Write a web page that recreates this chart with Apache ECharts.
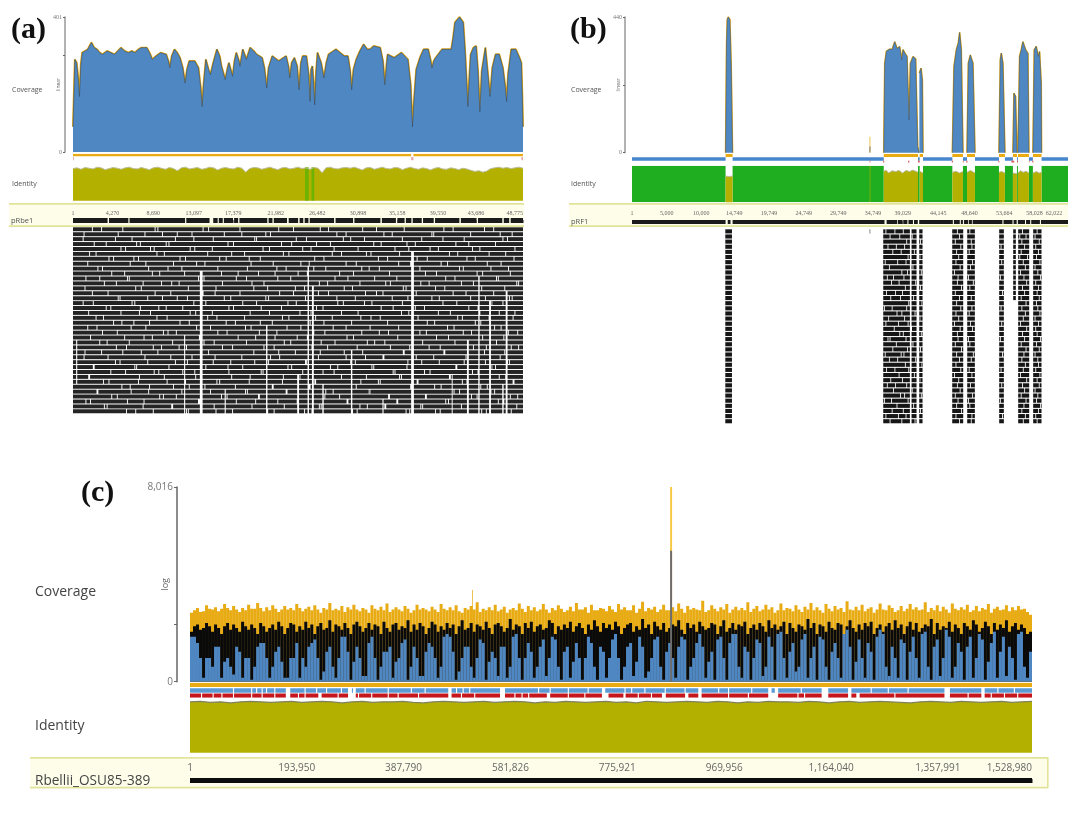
<!DOCTYPE html>
<html><head><meta charset="utf-8">
<style>html,body{margin:0;padding:0;background:#fff}#c{width:1068px;height:818px;filter:blur(0.5px)}</style>
<script src="https://cdn.jsdelivr.net/npm/echarts@6/dist/echarts.min.js"></script>
</head><body><div id="c"></div>
<script>
// ---------- Panel (a) ----------
const lengthA = 48775;
const ticksA = [1,4270,8690,13097,17379,21982,26482,30898,35158,39550,43686,48775];
const posA = [0,200,400,600,700,850,1000,1300,1600,2000,2300,2600,2900,3200,3700,4100,4500,5200,5600,6000,6400,6700,7100,7400,8000,8300,8600,9000,9500,10100,10350,10500,10700,11000,11300,11600,11900,12150,12350,12600,13200,13600,13850,14000,14150,14400,14700,14900,15200,15600,15900,16100,16500,16750,16900,17150,17300,17500,17700,18000,18100,18400,18800,19200,19600,19900,20500,20750,21000,21200,21600,22300,22800,23100,23350,23500,23700,24000,24300,24500,24700,24900,25300,25550,25700,25800,25950,26100,26200,26350,26500,26900,27200,27450,27700,28500,29400,29800,30050,30200,30400,30700,31100,31500,31900,32200,32600,33300,33600,33800,34000,34100,34800,35600,36300,36600,36800,36950,37200,37600,38000,38500,38750,38900,39100,39300,40000,41000,41200,41400,41900,42300,42500,42650,42800,42950,43100,43400,43700,43900,44100,44300,44700,44950,45200,45450,45800,46200,46600,46850,47000,47150,47500,48000,48400,48600,48700,48775];
const covA = [75,275,265,210,165,260,295,300,305,325,310,305,295,290,300,295,290,310,300,295,300,295,305,310,310,295,275,285,295,290,270,250,285,305,295,280,250,205,245,270,270,250,190,135,200,275,245,230,265,305,285,255,215,250,265,240,225,270,295,270,255,305,275,310,300,290,280,250,190,250,285,270,280,285,255,220,265,280,255,185,265,285,285,230,150,245,255,200,140,240,295,265,220,265,290,305,285,285,240,185,245,275,300,320,305,305,315,310,270,200,265,290,280,295,275,200,75,150,245,280,305,305,275,250,270,280,305,305,340,385,401,385,300,220,135,220,290,310,315,240,120,240,310,240,165,250,290,290,250,195,150,230,305,305,280,265,170,75];
const stripGapsA = [[36650,36900]];
const stripMarksA = [[0,100],[36650,36900],[48600,48775]];
const identityA = [90,92,88,93,91,89,94,92,87,90,93,91,88,92,94,90,89,93,90,87,92,94,91,88,93,90,84,92,94,89,91,93,88,90,94,92,86,91,93,90,89,94,91,80,90,93,92,88,91,94,90,87,92,93,89,91,94,90,92,88,93,91,78,92,94,90,89,92,93,91,94,90,86,92,93,88,91,94,90,89,93,92,87,91,94,90,88,92,90,86,91,93,89,88,92,90,87,91,89,85,82,84,80,83,90,92,94,91,93,90,92,94,91];
const greenA = [[25150,25550],[25850,26150]];
const rulerGapsA = [[3750,3900],[6000,6130],[12150,12280],[14800,15200],[15680,15800],[16230,16350],[17340,17460],[17900,18040],[21060,21200],[21620,21760],[23200,23380],[24400,24560],[24960,25110],[25520,25660],[28300,28460],[30360,30500],[33320,33480],[35000,35160],[35940,36080],[36680,36820],[37800,37940],[39100,39240],[41880,42040],[43740,43900],[46530,46690],[47280,47440]];
const readColsA = [[13.9,.3,9,38],[12.1,.12,22,38],[25.5,.15,8,38],[26.0,.2,12,38],[36.8,.3,5,38],[42.8,.2,23,38],[44.0,.15,10,38],[45.2,.2,15,38],[47.0,.2,13,38],[21.0,.15,20,38],[24.4,.2,30,38],[30.2,.15,25,38],[33.6,.12,35,38],[27.1,.15,32,38],[16.5,.12,33,38],[.4,.12,23,31],[46.6,.15,32,38],[41.1,.1,30,38]];
const readBreaksA = [
[3.1,5.4,9.2,14.7,22.3,26.8,31.4,35.9,40.2,44.6],[1.2,7.8,12.9,18.3,21.4,29.6,33.7,39.1,46.3],[4.6,11.1,15.2,19.7,25.3,30.1,37.8,42.4,47.1],
[2.3,6.9,10.4,16.8,23.7,27.9,32.6,36.2,41.5,45.8],[5.7,8.8,13.2,20.6,24.9,28.3,34.9,38.7,43.3],[1.8,9.9,17.2,22.8,29.1,31.8,35.4,40.8,46.9],
[3.9,7.1,12.2,15.9,19.1,26.2,33.1,37.3,42.7,47.8],[6.2,10.9,14.3,21.7,25.6,30.7,36.6,39.9,44.9],[2.7,8.2,11.8,18.9,23.1,27.4,32.1,41.9,45.3],
[4.2,9.4,16.1,20.1,24.4,28.9,34.3,38.2,43.8,47.4],[1.4,5.9,13.6,17.7,22.2,29.8,35.1,40.4,46.1],[3.4,7.6,10.7,19.4,26.7,31.1,33.9,37.7,42.1,48.1],
[6.8,12.5,15.5,21.1,25.1,30.3,36.1,39.3,44.3],[2.1,8.9,14.1,18.1,23.9,27.7,32.9,41.2,45.6],[4.9,9.7,11.3,16.4,20.9,28.6,34.6,38.9,43.1,47.6],
[1.1,6.4,13.1,19.9,24.2,29.3,31.6,35.7,40.1,46.6],[3.6,7.3,10.1,17.4,22.6,26.4,33.4,37.1,42.9],[5.2,8.4,12.7,15.1,21.3,25.8,30.9,36.4,39.6,44.1,47.9],
[2.5,9.1,14.6,18.6,23.4,28.1,32.3,41.7,45.1],[4.4,6.6,11.6,16.6,20.3,27.2,34.1,38.4,43.6],[1.6,7.9,13.4,19.3,24.7,29.6,35.3,40.6,46.4],
[3.2,10.3,15.7,22.1,26.1,31.3,33.2,37.6,42.3,47.2],[5.6,8.6,12.1,17.9,21.9,25.4,30.4,36.9,39.4,44.4],[2.9,6.1,14.2,18.8,23.6,28.4,32.7,41.4,45.9],
[4.7,9.6,11.5,16.2,20.7,27.6,34.4,38.6,43.4,48.3],[1.3,7.4,13.8,19.6,24.1,29.4,35.8,40.3,46.8],[3.8,10.6,15.4,22.4,26.6,31.7,33.6,37.2,42.6],
[5.1,8.1,12.4,17.1,21.2,25.2,30.6,36.3,39.7,44.7,47.3],[2.2,6.7,14.4,18.4,23.3,28.7,32.4,41.6,45.4],[4.1,9.3,11.9,16.9,20.4,27.1,34.7,38.1,43.9],
[1.7,7.2,13.3,19.2,24.6,29.1,35.6,40.9,46.2],[3.3,10.2,15.6,22.7,26.3,31.2,33.3,37.4,42.2,47.7],[5.3,8.3,12.6,17.6,21.6,25.7,30.2,36.7,39.2,44.2],
[2.6,6.3,14.9,18.7,23.2,28.2,32.2,41.3,45.7],[4.8,9.8,11.2,16.7,20.2,27.3,34.2,38.3,43.2,48.2],[1.9,7.7,13.7,19.8,24.3,29.7,35.2,40.7,46.7],
[3.7,10.8,15.3,22.9,26.9,31.9,33.8,37.9,42.8],[5.8,8.7,12.3,17.3,21.8,25.9,30.8,36.5,39.8,44.8,47.5]];

// ---------- Panel (b) ----------
const viewEndB = 62850;
const ticksB = [1,5000,10000,14749,19749,24749,29749,34749,39029,44145,48640,53664,58028,62022];
const posB = [13488,13632,13728,13872,14112,14304,14496,14497,36288,36432,36672,37152,37488,37872,38208,38592,38880,39072,39360,39648,39936,40128,40512,40896,41184,41376,41377,41424,41664,41856,41952,41953,46176,46416,46752,47040,47232,47472,47712,47713,48288,48480,48768,49152,49440,49441,52896,53088,53232,53472,53760,53761,54912,55056,55296,55488,55489,55632,55872,56112,56352,56736,57072,57216,57217,57792,57984,58272,58560,58752,58992,59040];
const covB = [0,356,431,440,431,280,0,null,0,290,329,336,334,360,338,344,301,334,322,312,106,290,312,304,20,0,null,258,274,236,0,null,0,280,334,356,390,334,0,null,0,290,317,290,0,null,0,302,323,290,0,null,0,193,182,0,null,0,312,334,360,334,322,0,null,0,334,345,312,328,225,0];
const islandsB = [[13490,14500],[36290,41230],[41470,41950],[46180,47710],[48290,49440],[52900,53760],[54910,55490],[55630,57220],[57790,59040]];
const thinB = [[34270,34330]];
const spikeB = [[34240,34360,52]];
const spikeDarkB = [[34240,34360,20]];
const edgeMarksB = [[36200,36350],[39800,39980],[41230,41470],[46100,46260],[47700,47800],[48200,48360],[52820,52960],[54700,55100],[55500,55650],[57220,57300],[57700,57860],[34250,34350]];
const posIdB = [13490,14000,14500,14501,36290,36600,37000,37500,38000,38500,39000,39500,40000,40500,41230,41231,41470,41950,41951,46180,46700,47200,47710,47711,48290,48800,49440,49441,52900,53300,53760,53761,54910,55490,55491,55630,56000,56400,56800,57220,57221,57790,58300,58700,59040];
const idB = [72,70,72,null,84,88,80,86,84,87,80,87,84,88,82,null,85,80,null,82,85,80,84,null,82,87,80,null,82,84,80,null,80,78,null,80,86,82,85,80,null,80,84,80,82];
const rulerGapsB = [[13490,13800],[14200,14500],[36400,36700],[38200,38300],[39000,39100],[39700,39850],[40500,40650],[41200,41400],[46250,46400],[47250,47400],[47700,47850],[48450,48550],[49000,49100],[53400,53550],[54850,55000],[55450,55620],[56650,56800],[57400,57550],[58800,58950]];
const readIslandsB = [[13449,14410,38],[36215,40058,38],[40298,41019,38],[41403,41883,38],[46159,47744,38],[48320,49424,38],[52930,53603,38],[54948,55332,14],[55668,57254,38],[57829,59030,38]];
const readThinB = [[34250,34350,0]];
const readBreaksB = [
[36.6,37.9,39.1,46.9,48.7,56.3,58.4],[37.2,38.6,40.4,47.2,55.9,56.8,58.1],[39.6,41.6,46.6,48.9,56.2,58.7],
[36.9,38.1,39.3,47.4,49,53.2,56.6,58.2],[37.6,38.8,40.7,46.8,48.6,56.1,58.6],[39.8,41.5,47.1,55.9,57,58.3],
[36.5,38.3,39.5,46.7,49.1,53.3,56.4,58.8],[37.1,40.5,47.3,48.8,56.7,58.1],[38.9,39.7,41.7,46.5,56,58.5],
[36.8,37.7,39.2,47,48.5,53.1,56.5,58.9],[37.4,38.5,40.9,46.9,49.2,56.9,58.2],[39.4,41.6,47.5,48.7,56.3,58.6],
[36.7,38,39,46.6,53.4,56.6,58.4],[37.3,38.7,40.6,47.2,48.9,56.1,58.7],[39.9,41.8,46.8,56.8,58.3],
[36.4,37.5,39.6,47.4,49,53.2,56.2,58.5],[38.2,38.9,40.8,46.7,48.6,56.7,58.8],[37,39.3,41.5,47.1,56.4,58.1],
[36.6,38.4,39.8,46.5,48.8,53.3,56,58.6],[37.8,40.3,47.3,49.1,56.9,58.2],[38.6,39.1,41.7,46.9,56.3,58.4],
[36.9,37.2,39.5,47,48.5,53.1,56.6,58.9],[38.1,40.5,46.6,48.7,56.1,58.3],[37.6,39.7,41.6,47.5,56.8,58.7],
[36.5,38.8,39.2,46.8,49.2,53.4,56.5,58.1],[37.1,38.3,40.9,47.2,48.9,56.2,58.5],[39.4,41.8,46.7,56.7,58.6],
[36.7,37.9,39.9,47.4,48.6,53.2,56.4,58.2],[38.5,40.7,46.5,49,56,58.8],[37.3,39,41.5,47.1,56.9,58.4],
[36.8,38,39.6,46.9,48.8,53.3,56.3,58.7],[37.7,40.4,47.3,56.6,58.1],[38.7,39.3,41.7,46.6,49.1,56.1,58.5],
[36.4,37.4,39.8,47,48.5,53.1,56.8,58.3],[38.2,40.6,46.8,48.7,56.5,58.9],[37.5,39.1,41.6,47.5,56.2,58.6],
[36.6,38.4,39.5,46.7,49,53.4,56.7,58.2],[37.2,38.9,40.8,47.2,48.9,56.4,58.4]];

// ---------- Panel (c) ----------
const lengthC = 1528980;
const ticksC = [1,193950,387790,581826,775921,969956,1164040,1357991,1528980];
const coverageMaxC = [
24,27,30,25,26,34,29,28,31,26,29,36,30,27,33,28,25,30,27,35,29,29,38,30,26,31,27,34,29,25,28,33,28,30,27,36,30,26,29,32,
27,34,28,24,30,28,38,27,29,27,33,25,31,28,35,28,26,30,28,24,34,29,27,32,27,37,25,28,31,28,26,33,29,24,27,35,28,30,28,26,
32,28,25,36,29,27,31,27,34,26,24,30,28,33,28,39,25,29,27,31,27,35,26,28,32,24,28,30,27,37,29,25,33,27,31,26,28,36,28,24,
30,27,34,29,25,27,32,26,38,28,28,31,24,35,27,27,30,29,26,33,28,25,36,28,31,27,27,34,24,29,40,26,30,28,32,25,28,35,27,27,
31,26,37,29,24,33,28,30,28,27,42,25,27,34,29,26,31,28,36,24,28,32,27,30,27,39,25,29,33,26,28,35,28,31,24,27,37,27,30,29,
26,34,28,25,32,28,38,27,31,27,24,36,29,26,33,28,30,25,41,28,27,32,27,35,26,29,31,24,28,37,28,27,34,30,25,27,33,26,29,36,
28,31,27,28,39,25,30,27,34,26,32,28,24,37,29,27,31,28,35,25,27,33,26,30,28,36,24,29,32,27,28,34,26,31,27,33,28,29,25,22];
const coverageMeanC = [
10,13,14,11,12,15,13,10,14,12,9,13,15,11,14,12,10,16,13,11,14,12,9,15,13,10,12,14,11,16,13,9,12,15,14,10,13,11,16,12,
14,9,13,15,11,12,17,10,14,13,11,15,12,9,14,16,13,10,12,15,11,14,13,9,16,12,10,14,15,11,13,12,17,10,14,11,15,13,9,12,
16,14,10,13,11,15,12,14,9,13,17,11,12,15,10,14,13,11,16,12,9,14,15,13,10,12,18,11,14,13,9,15,12,16,10,13,14,11,12,17,
15,9,13,11,14,12,16,10,13,15,12,9,14,11,17,13,10,15,12,14,11,16,13,9,12,14,15,10,13,11,18,12,14,9,16,13,11,15,10,12,
14,13,17,11,9,15,12,14,10,16,13,11,12,15,14,9,13,17,10,12,15,11,14,13,16,9,12,14,11,15,13,10,17,12,14,11,13,16,9,15,
12,10,14,13,11,18,12,15,9,14,13,10,16,12,11,15,14,9,13,17,12,10,14,11,15,13,16,9,12,14,10,13,15,11,17,12,14,9,13,16,
11,15,10,12,14,13,18,9,15,11,13,12,16,10,14,12,9,15,13,11,17,14,10,12,16,13,9,15,11,14,12,17,10,13,15,11,14,12,9,10];
const coverageMinC = [
8,8,6,3,1.2,3,3,2,5,5,1.2,2.5,3,2,1.4,5,4,1.2,3,3,1.1,2,5,6,6,3,1.2,2,4,5,2.5,1.2,1.2,3,3,6,1.2,3,2,5,
6,7,3,1.1,1.6,4,5,2,1.2,3,8,8,4,1.1,2.5,5,3,1.3,1.3,6,8,3,1.1,2,4,4,5,1.2,2.5,3,6,7,1.1,2,5,3,1.3,1.3,4,6,
5,3,1.2,2,8,9,8,4,1.1,1.6,3,5,5,2,1.2,3,7,6,1.1,2.5,4,3,1.3,5,5,1.2,2,8,9,3,1.1,3,6,4,1.2,2,5,7,1.3,3,
8,7,2,1.1,4,5,1.2,2.5,6,3,1.1,3,8,6,2,1.1,5,4,1.2,3,7,9,3,1.1,2,5,6,1.3,2.5,8,5,1.2,1.6,3,7,8,2,1.1,4,6,
3,1.2,5,8,7,1.1,2,3,6,9,5,1.2,2.5,4,1.1,7,8,3,1.1,6,9,9,2,1.2,5,4,1.1,3,7,6,1.3,2,8,5,1.1,9,10,3,1.2,4,
6,1.6,2,7,9,1.2,3,5,1.1,8,7,2,1.1,4,6,3,1.2,9,11,5,1.1,2.5,7,3,1.2,6,4,1.1,8,11,9,2,1.3,5,3,1.2,7,6,1.1,4,
8,3,1.2,9,10,2,1.1,5,7,1.3,3,11,8,1.2,2,6,4,1.1,5,8,1.2,3,9,7,1.1,2.5,6,10,1.2,4,8,1.3,5,3,1.1,9,10,2,1.2,4];
const spikeMaxC = [[871800,875400,8016]];
const spikeMeanC = [[871800,875400,420]];
const minorSpikeC = [[512400,513700,69]];
const stripGapsBlueC = [[78,80],[111,113],[120,122],[130,132],[138,140],[153,155],[174,182],[208,210],[229,231],[247,249],[274,276],[287,294],[296,301],[317,319],[359,361],[401,403],[426,428],[469,475],[483,485],[495,497],[507,509],[563,572],[632,634],[653,655],[686,688],[722,724],[748,754],[789,791],[801,803],[825,827],[862,864],[898,900],[923,929],[959,961],[977,979],[1019,1021],[1050,1056],[1062,1068],[1109,1111],[1147,1159],[1195,1201],[1236,1238],[1267,1269],[1303,1305],[1370,1380],[1437,1443],[1466,1468],[1496,1498]];
const stripGapsRedC = [[20,22],[41,43],[57,59],[78,80],[111,113],[130,132],[153,155],[174,182],[196,198],[208,210],[233,239],[268,270],[287,301],[305,307],[329,331],[359,361],[377,379],[414,416],[469,475],[492,494],[516,518],[563,572],[589,591],[602,604],[614,616],[648,654],[686,688],[716,718],[748,760],[787,791],[813,815],[837,839],[857,864],[899,905],[923,929],[977,979],[1013,1015],[1050,1068],[1103,1105],[1115,1117],[1147,1159],[1195,1201],[1210,1216],[1279,1281],[1370,1380],[1412,1414],[1437,1443],[1454,1456],[1478,1480],[1502,1504]];
const identityC = [93,94,92,93,91,93,94,93,92,93,94,92,93,94,93,91,93,94,92,93,93,94,92,91,93,94,93,92,93,94,92,93,94,93,91,93,92,94,93,92,93,94,92,93,91,94,93,92,93,94,93,92,94,93,91,93,92,94,93,93,92,94,93,91,93,94,92,93,94,93,92,91,93,94,93,92,94,93,92,93,94,92,93,94];

// ---------- Helpers that build option pieces from those arrays ----------
const fmt = v => Math.round(v).toLocaleString('en-US');
const grids = [], xAxes = [], yAxes = [], series = [];
const BLUE='#4f87c3', ORANGE='#e8ab14', OLIVE='#b3b000', GREEN='#1fae1f', RED='#c4161c', DARK='#1b1b1b';

function addGrid(left,right,top,bottom,xMax,yOpt,xOpt){
  grids.push({left,top,width:right-left,height:bottom-top,show:false});
  const i = grids.length-1;
  xAxes.push(Object.assign({type:'value',gridIndex:i,min:1,max:xMax,show:false,splitLine:{show:false}},xOpt||{}));
  yAxes.push(Object.assign({type:'value',gridIndex:i,min:0,max:1,show:false,splitLine:{show:false}},yOpt||{}));
  return i;
}
function complement(gaps,lo,hi){
  const out=[]; let cur=lo;
  gaps.slice().sort((a,b)=>a[0]-b[0]).forEach(g=>{
    if(g[0]>cur && cur<hi) out.push([cur,Math.min(g[0],hi)]);
    cur=Math.max(cur,g[1]);
  });
  if(cur<hi) out.push([cur,hi]);
  return out;
}
function rects(g,data,color,base,top){
  series.push({type:'custom',coordinateSystem:'cartesian2d',xAxisIndex:g,yAxisIndex:g,silent:true,animation:false,clip:true,
    encode:{x:[0,1],y:2},
    data:data.map(d=>[d[0],d[1],d.length>2?d[2]:top]),
    renderItem(p,api){
      const a=api.coord([api.value(0),api.value(2)]), b=api.coord([api.value(1),base]);
      return {type:'rect',shape:{x:a[0],y:a[1],width:Math.max(b[0]-a[0],.6),height:b[1]-a[1]},style:{fill:color}};
    }});
}
function binned(arr,len){ const w=len/arr.length; return arr.map((v,i)=>[i*w,(i+1)*w,v]); }
function rows(g,data,color){
  series.push({type:'custom',coordinateSystem:'cartesian2d',xAxisIndex:g,yAxisIndex:g,silent:true,animation:false,clip:true,
    encode:{x:[0,1],y:2},data,
    renderItem(p,api){
      const r=api.value(2), a=api.coord([api.value(0),r+.06]), b=api.coord([api.value(1),r+.86]);
      return {type:'rect',shape:{x:a[0],y:a[1],width:Math.max(b[0]-a[0],.6),height:b[1]-a[1]},style:{fill:color}};
    }});
}
function area(g,pos,vals,lineColor,lineWidth,fill,z){
  series.push({type:'line',xAxisIndex:g,yAxisIndex:g,symbol:'none',silent:true,animation:false,clip:false,connectNulls:false,z,
    data:pos.map((x,i)=>[x,vals[i]]),lineStyle:{color:lineColor,width:lineWidth},
    areaStyle:fill?{color:fill,opacity:1}:undefined});
}
function cov(max,mid,name,offset,scale,size){
  const big=size>8;
  return {show:true,min:scale?1:0,max,type:scale||'value',logBase:scale?2:undefined,offset,
    axisLine:{show:true,lineStyle:{color:big?'#666':'#999',width:1.5}},
    axisTick:{show:true,customValues:[scale?1:0,mid,max],length:big?3:2,lineStyle:{color:'#666'}},
    axisLabel:{show:true,customValues:[scale?1:0,max],formatter:v=>(v<=1?'0':fmt(v)),fontSize:size,color:'#777',margin:big?4:3,
      fontFamily:big?'Open Sans':'Liberation Serif'},
    splitLine:{show:false},minorTick:{show:false},
    name,nameLocation:'middle',nameRotate:90,nameGap:big?7:4,nameMoveOverlap:false,
    nameTextStyle:{fontSize:big?9:5,color:'#666',fontFamily:'Open Sans'}};
}
function ruler(ticks,size,margin,tick,family){
  return {show:true,position:'top',axisLine:{show:false},
    axisTick:{show:true,customValues:ticks,length:tick,lineStyle:{color:'#888'}},
    axisLabel:{show:true,customValues:ticks,formatter:fmt,fontSize:size,color:'#666',margin,fontFamily:family,hideOverlap:false,showMinLabel:true,showMaxLabel:true,alignMaxLabel:'right'}};
}
function readSegs(breaks,cols,lo,hi){
  const out=[];
  breaks.forEach((br,r)=>{
    // each row shows its own read breaks plus those listed for a row further down
    const gaps=br.concat(breaks[(r+13)%breaks.length]).map(k=>[k*1000-50,k*1000+50]);
    cols.forEach(c=>{ if(r>=c[2]&&r<=c[3]) gaps.push([(c[0]-c[1]/2)*1000,(c[0]+c[1]/2)*1000]); });
    complement(gaps,lo,hi).forEach(s=>out.push([s[0],s[1],r]));
  });
  return out;
}

// Panel (a)
{
  const L=73,R=523;
  const g0=addGrid(L,R,17,152,lengthA,cov(401,288,'linear',8,null,6));
  area(g0,posA,covA,ORANGE,2,null,2);
  area(g0,posA,covA,'#34495f',.6,BLUE,3);
  const g1=addGrid(L,R,153.7,160.5,lengthA,{max:7});
  rects(g1,complement(stripGapsA,1,lengthA),ORANGE,4.5,7);
  rects(g1,stripMarksA,'#e6a9b0',0,3.6);
  const g2=addGrid(L,R,165,200.7,lengthA,{max:100});
  area(g2,identityA.map((_,i)=>i*lengthA/(identityA.length-1)),identityA,'#bcbc9c',1,OLIVE,2);
  rects(g2,greenA,'#6eb300',0,94);
  const g3=addGrid(L,R,218,223,lengthA,{},ruler(ticksA,6,2,3,'Liberation Serif'));
  rects(g3,complement(rulerGapsA,1,lengthA),DARK,0,1);
  const g4=addGrid(L,R,227,414,lengthA,{max:38,inverse:true});
  rows(g4,readSegs(readBreaksA,readColsA,1,lengthA),'#242424');
}
// Panel (b)
{
  const L=632,R=1068;
  const g0=addGrid(L,R,17,152.7,viewEndB,cov(440,220,'linear',7,null,6));
  area(g0,posB,covB,ORANGE,1.6,null,2);
  area(g0,posB,covB,'#3a5068',.5,BLUE,3);
  rects(g0,spikeB,'#e8b82f',0);
  rects(g0,spikeDarkB,'#666',0);
  const g1=addGrid(L,R,153.7,164,viewEndB,{max:10.3});
  rects(g1,islandsB,ORANGE,7,10.3);
  rects(g1,complement(islandsB,1,viewEndB),'#4686cc',3.2,6.8);
  rects(g1,edgeMarksB,'#d9534f',1.5,3.2);
  const g2=addGrid(L,R,165.7,202.3,viewEndB,{max:100});
  rects(g2,complement(islandsB,1,viewEndB),GREEN,0,100);
  rects(g2,thinB,OLIVE,0,100);
  area(g2,posIdB,idB,'#bcbc9c',1,OLIVE,3);
  const g3=addGrid(L,R,220,224,viewEndB,{},ruler(ticksB,6,4,3,'Liberation Serif'));
  rects(g3,complement(rulerGapsB,1,viewEndB),DARK,0,1);
  const g4=addGrid(L,R,229,424,viewEndB,{max:38,inverse:true});
  const segs=[];
  readBreaksB.forEach((br,r)=>{
    readIslandsB.forEach(isl=>{
      if(r>=isl[2]) return;
      complement(br.map(k=>[k*1000-60,k*1000+60]),isl[0],isl[1]).forEach(s=>segs.push([s[0],s[1],r]));
    });
  });
  rows(g4,segs,'#161616');
  rows(g4,readThinB.map(t=>[t[0],t[1],t[2]]),'#555');
}
// Panel (c)
{
  const L=190,R=1032;
  const g0=addGrid(L,R,487,681.7,lengthC,cov(8016,14,'log',13,'log',10));
  rects(g0,spikeMaxC,'#f6c945',1);
  rects(g0,minorSpikeC,ORANGE,1);
  rects(g0,binned(coverageMaxC,lengthC),ORANGE,1);
  rects(g0,binned(coverageMeanC,lengthC),'#0a0a0a',1);
  rects(g0,binned(coverageMinC,lengthC),BLUE,1);
  rects(g0,spikeMeanC,'#6d6d6d',1);
  const g1=addGrid(L,R,682.7,697.7,lengthC,{max:15});
  rects(g1,[[1,lengthC]],ORANGE,10.7,15);
  rects(g1,complement(stripGapsBlueC.map(g=>[g[0]*1000,g[1]*1000]),1,lengthC),'#5b9bd5',5,9.4);
  rects(g1,complement(stripGapsRedC.map(g=>[g[0]*1000,g[1]*1000]),1,lengthC),RED,0,4.2);
  const g2=addGrid(L,R,698,752.7,lengthC,{max:100});
  area(g2,identityC.map((_,i)=>i*lengthC/(identityC.length-1)),identityC,'#808060',1.2,OLIVE,2);
  const g3=addGrid(L,R,778,783,lengthC,{},ruler(ticksC,10,5,4,'Open Sans'));
  rects(g3,[[1,lengthC]],'#0c0c0c',0,1);
}

const band=(x,y,w,h)=>[
  {type:'rect',shape:{x,y,width:w,height:h},style:{fill:'#fdfde9'},z:0,silent:true},
  {type:'rect',shape:{x,y:y-1,width:w,height:1.8},style:{fill:'#e2e39b'},z:0,silent:true},
  {type:'rect',shape:{x,y:y+h-.8,width:w,height:1.8},style:{fill:'#e2e39b'},z:0,silent:true}];
const txt=(x,y,text,font,fill)=>({type:'text',x,y,style:{text,font,fill,verticalAlign:'middle'},z:20,silent:true});
const SER='"Liberation Serif"', SANS='"Open Sans"';
const graphic=[].concat(
  band(9,204,515,22), band(569,204,510,22), band(30,758,1018,29.5),
  [{type:'rect',shape:{x:1047,y:757,width:1.6,height:31},style:{fill:'#e2e39b'},z:0,silent:true}],
  [txt(11,30,'(a)','bold 30px '+SER,'#111'), txt(570,30,'(b)','bold 30px '+SER,'#111'), txt(81,493,'(c)','bold 30px '+SER,'#111'),
  txt(12,90,'Coverage','7px '+SANS,'#555'), txt(12,184,'Identity','7px '+SANS,'#555'), txt(11,221,'pRbe1','7.5px '+SANS,'#555'),
  txt(571,90,'Coverage','7px '+SANS,'#555'), txt(571,184,'Identity','7px '+SANS,'#555'), txt(571,222,'pRF1','7.5px '+SANS,'#555'),
  txt(35,592,'Coverage','14px '+SANS,'#444'), txt(35,726,'Identity','14px '+SANS,'#444'), txt(35,781,'Rbellii_OSU85-389','13.6px '+SANS,'#444')]
);
const chart=echarts.init(document.getElementById('c'),null,{renderer:'canvas',width:1068,height:818});
chart.setOption({animation:false,backgroundColor:'#fff',grid:grids,xAxis:xAxes,yAxis:yAxes,series,graphic,tooltip:{show:false}});
</script></body></html>
